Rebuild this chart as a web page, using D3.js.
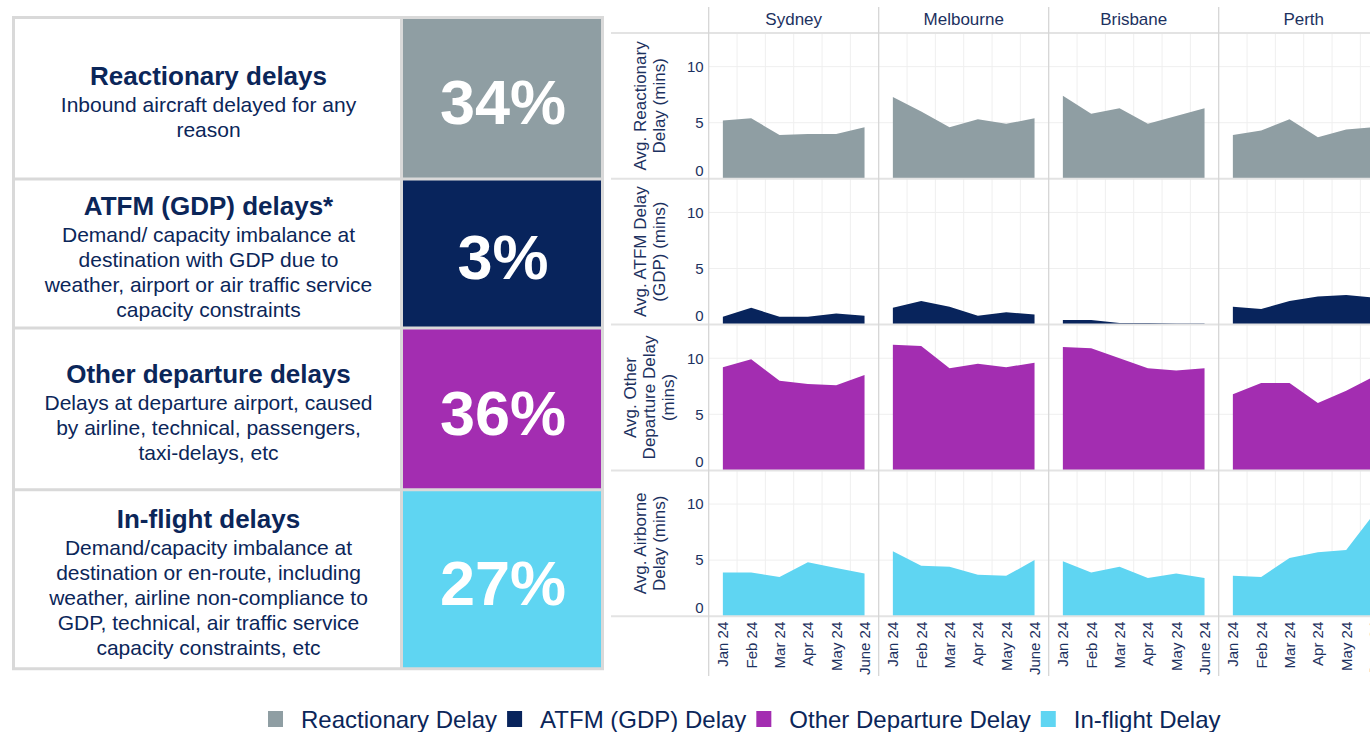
<!DOCTYPE html>
<html>
<head>
<meta charset="utf-8">
<script src="https://cdn.jsdelivr.net/npm/d3@7/dist/d3.min.js"></script>
<style>
  html, body { margin: 0; padding: 0; background: #ffffff; }
  svg { display: block; font-family: "Liberation Sans", Arial, sans-serif; }
</style>
</head>
<body>
<svg id="chart" width="1370" height="732"></svg>
<script>
// ---- data -------------------------------------------------------------
const months = ["Jan 24", "Feb 24", "Mar 24", "Apr 24", "May 24", "June 24"];
const cities = ["Sydney", "Melbourne", "Brisbane", "Perth"];

// average delay in minutes, one array per city (Sydney, Melbourne, Brisbane, Perth)
const reactionary = [
  [5.2, 5.4, 3.9, 4.0, 4.0, 4.6],
  [7.3, 6.0, 4.6, 5.3, 4.9, 5.4],
  [7.4, 5.8, 6.3, 4.9, 5.6, 6.3],
  [3.9, 4.3, 5.3, 3.7, 4.4, 4.6]
];
const atfm = [
  [0.7, 1.5, 0.7, 0.7, 1.0, 0.8],
  [1.5, 2.1, 1.6, 0.8, 1.1, 0.9],
  [0.4, 0.4, 0.15, 0.15, 0.1, 0.1],
  [1.6, 1.4, 2.1, 2.5, 2.65, 2.4]
];
const otherDeparture = [
  [9.2, 9.9, 8.0, 7.7, 7.6, 8.5],
  [11.2, 11.1, 9.1, 9.5, 9.2, 9.6],
  [11.0, 10.9, 10.0, 9.1, 8.9, 9.1],
  [6.8, 7.8, 7.8, 6.0, 7.1, 8.4]
];
const airborne = [
  [3.9, 3.9, 3.5, 4.8, 4.3, 3.8],
  [5.8, 4.5, 4.4, 3.7, 3.6, 5.0],
  [4.9, 3.9, 4.4, 3.4, 3.8, 3.4],
  [3.6, 3.5, 5.2, 5.7, 5.9, 9.2]
];

const yTicks = [0, 5, 10];

// share of total delay by category
const categoryTitles = ["Reactionary delays", "ATFM (GDP) delays*", "Other departure delays", "In-flight delays"];
const categoryShares = [34, 3, 36, 27];
const categoryNotes = [
  ["Inbound aircraft delayed for any", "reason"],
  ["Demand/ capacity imbalance at", "destination with GDP due to", "weather, airport or air traffic service", "capacity constraints"],
  ["Delays at departure airport, caused", "by airline, technical, passengers,", "taxi-delays, etc"],
  ["Demand/capacity imbalance at", "destination or en-route, including", "weather, airline non-compliance to", "GDP, technical, air traffic service", "capacity constraints, etc"]
];

const legendLabels = ["Reactionary Delay", "ATFM (GDP) Delay", "Other Departure Delay", "In-flight Delay"];
const yTitles = [
  ["Avg. Reactionary", "Delay (mins)"],
  ["Avg. ATFM Delay", "(GDP) (mins)"],
  ["Avg. Other", "Departure Delay", "(mins)"],
  ["Avg. Airborne", "Delay (mins)"]
];

// ---- styles -----------------------------------------------------------
const palette = ["#8f9ea3", "#08245c", "#a32db1", "#5fd5f2"];
const navy = "#0b2659";
const axisInk = "#1c3160";
const borderGrey = "#d9d9d9";

const svg = d3.select("#chart");
svg.append("rect").attr("width", 1370).attr("height", 732).attr("fill", "#fff");

// ---- summary table (left) ---------------------------------------------
const table = svg.append("g");
const rowEdges = [17.5, 179, 328, 489.7, 668.7];
const tblLeft = 13.5, tblMid = 401.5, tblRight = 602.5;

categoryTitles.forEach((title, i) => {
  const top = rowEdges[i], bottom = rowEdges[i + 1];
  const cy = (top + bottom) / 2;
  table.append("rect")
    .attr("x", tblMid).attr("y", top)
    .attr("width", tblRight - tblMid).attr("height", bottom - top)
    .attr("fill", palette[i]);

  table.append("text")
    .attr("x", (tblMid + tblRight) / 2 + 1)
    .attr("y", cy + 3)
    .attr("dy", "0.36em")
    .attr("text-anchor", "middle")
    .attr("font-size", 63)
    .attr("font-weight", "bold")
    .attr("fill", "#fff")
    .text(categoryShares[i] + "%");

  const notes = categoryNotes[i];
  const titleGap = 29, lineH = 25;
  const blockH = titleGap + lineH * (notes.length - 1);
  const firstY = cy + 4 - blockH / 2;
  const tx = (tblLeft + tblMid) / 2 + 1;
  table.append("text")
    .attr("x", tx).attr("y", firstY).attr("dy", "0.36em")
    .attr("text-anchor", "middle")
    .attr("font-size", 26).attr("font-weight", "bold")
    .attr("fill", navy)
    .text(title);
  notes.forEach((line, j) => {
    table.append("text")
      .attr("x", tx).attr("y", firstY + titleGap + j * lineH).attr("dy", "0.36em")
      .attr("text-anchor", "middle")
      .attr("font-size", 21)
      .attr("fill", navy)
      .text(line);
  });
});

// grid of the table
rowEdges.forEach(y => {
  table.append("line").attr("x1", tblLeft - 1.5).attr("x2", tblRight + 1.5)
    .attr("y1", y).attr("y2", y)
    .attr("stroke", borderGrey).attr("stroke-width", 3);
});
[tblLeft, tblMid, tblRight].forEach(x => {
  table.append("line").attr("x1", x).attr("x2", x)
    .attr("y1", rowEdges[0]).attr("y2", rowEdges[rowEdges.length - 1])
    .attr("stroke", borderGrey).attr("stroke-width", 3);
});

// ---- faceted area charts (right) --------------------------------------
const series = [reactionary, atfm, otherDeparture, airborne];
const colX0 = 708.7, colW = 170;
const rowY0 = 33, rowH = 145.8;
const panelsLeft = 611;

const facets = svg.append("g");
const gridLayer = facets.append("g");
const areaLayer = facets.append("g");
const frameLayer = facets.append("g");
const textLayer = facets.append("g");

series.forEach((metric, r) => {
  const top = rowY0 + r * rowH, bottom = top + rowH;
  const y = d3.scaleLinear().domain([0, 13]).range([bottom, top]);

  cities.forEach((city, c) => {
    const left = colX0 + c * colW;
    const x = d3.scalePoint().domain(months).range([left, left + colW]).padding(0.5);

    // light gridlines
    [5, 10].forEach(v => {
      gridLayer.append("line")
        .attr("x1", left).attr("x2", left + colW)
        .attr("y1", y(v)).attr("y2", y(v))
        .attr("stroke", "#efefef").attr("stroke-width", 1);
    });
    months.slice(1).forEach((m, k) => {
      const gx = (x(months[k]) + x(m)) / 2;
      gridLayer.append("line")
        .attr("x1", gx).attr("x2", gx)
        .attr("y1", top).attr("y2", bottom)
        .attr("stroke", "#efefef").attr("stroke-width", 1);
    });

    const area = d3.area()
      .x((d, k) => x(months[k]))
      .y0(y(0))
      .y1(d => y(d));
    areaLayer.append("path")
      .attr("d", area(metric[c]))
      .attr("fill", palette[r]);
  });

  // y axis ticks
  const axis = textLayer.append("g")
    .attr("transform", `translate(${colX0},0)`)
    .call(d3.axisLeft(y).tickValues(yTicks).tickSize(0).tickPadding(5).tickFormat(d3.format("d")));
  axis.select(".domain").remove();
  axis.selectAll("text")
    .attr("font-size", 15)
    .attr("font-family", "Liberation Sans, Arial, sans-serif")
    .attr("fill", axisInk)
    .attr("dy", d => d === 0 ? "-0.25em" : "0.32em");

  // y axis title
  const lines = yTitles[r];
  const cy = (top + bottom) / 2;
  const lineGap = 19, centerX = 649;
  lines.forEach((line, j) => {
    const lx = centerX + (j - (lines.length - 1) / 2) * lineGap;
    textLayer.append("text")
      .attr("transform", `translate(${lx},${cy}) rotate(-90)`)
      .attr("dy", "0.36em")
      .attr("text-anchor", "middle")
      .attr("font-size", 17)
      .attr("fill", axisInk)
      .text(line);
  });
});

// panel frame lines
d3.range(series.length + 1).forEach(r => {
  const yy = rowY0 + r * rowH;
  frameLayer.append("line")
    .attr("x1", panelsLeft).attr("x2", 1370)
    .attr("y1", yy).attr("y2", yy)
    .attr("stroke", "#e3e3e3").attr("stroke-width", 2);
});
d3.range(cities.length + 1).forEach(c => {
  const xx = colX0 + c * colW;
  frameLayer.append("line")
    .attr("x1", xx).attr("x2", xx)
    .attr("y1", 7).attr("y2", 676)
    .attr("stroke", "#d6d6d6").attr("stroke-width", 1.3);
});

// strip labels and month labels
cities.forEach((city, c) => {
  const left = colX0 + c * colW;
  const x = d3.scalePoint().domain(months).range([left, left + colW]).padding(0.5);
  textLayer.append("text")
    .attr("x", left + colW / 2).attr("y", 19).attr("dy", "0.36em")
    .attr("text-anchor", "middle")
    .attr("font-size", 17)
    .attr("fill", axisInk)
    .text(city);
  months.forEach(m => {
    textLayer.append("text")
      .attr("transform", `translate(${x(m)},${rowY0 + series.length * rowH + 5.5}) rotate(-90)`)
      .attr("dy", "0.36em")
      .attr("text-anchor", "end")
      .attr("font-size", 15)
      .attr("fill", axisInk)
      .text(m);
  });
});

// ---- legend -------------------------------------------------------------
const legend = svg.append("g");
let lx = 268;
const ly = 719;
legendLabels.forEach((label, i) => {
  legend.append("rect")
    .attr("x", lx).attr("y", ly - 8)
    .attr("width", 15).attr("height", 16)
    .attr("fill", palette[i]);
  const t = legend.append("text")
    .attr("x", lx + 33).attr("y", ly).attr("dy", "0.36em")
    .attr("font-size", 24)
    .attr("fill", navy)
    .text(label);
  lx = lx + 33 + t.node().getComputedTextLength() + 10;
});
</script>
</body>
</html>
